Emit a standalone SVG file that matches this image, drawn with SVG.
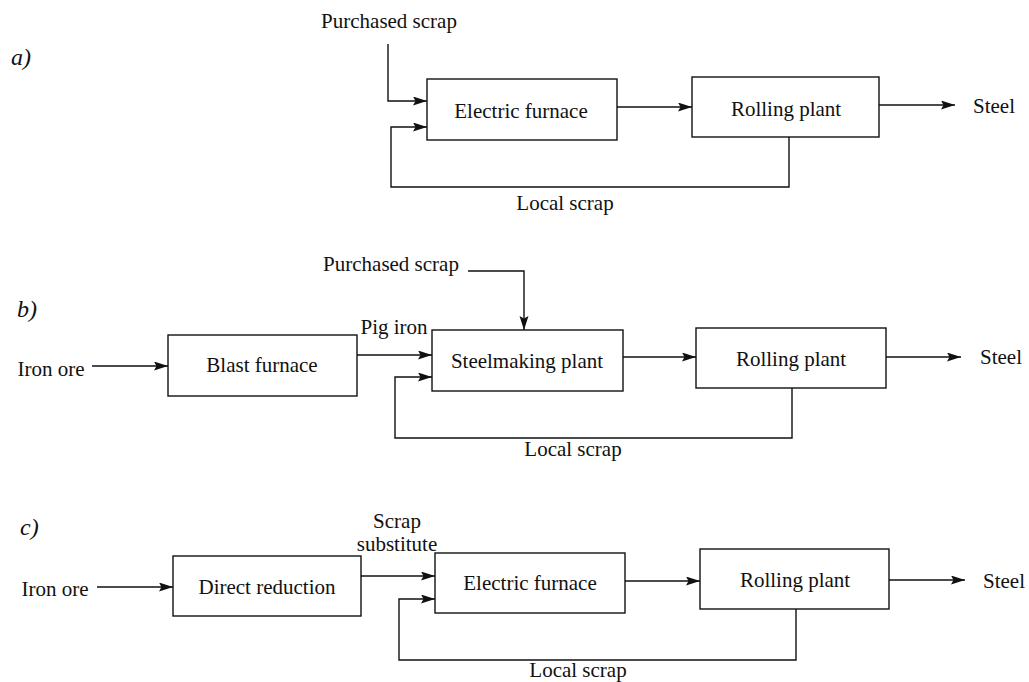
<svg xmlns="http://www.w3.org/2000/svg" width="1029" height="682" viewBox="0 0 1029 682">
<defs>
<style>
.box{fill:#fff;stroke:#111;stroke-width:1.4}
.ln{fill:none;stroke:#111;stroke-width:1.4}
.t{font-family:"Liberation Serif","Times New Roman",serif;font-size:21px;fill:#111}
.c{text-anchor:middle}
.lab{font-family:"Liberation Serif","Times New Roman",serif;font-style:italic;font-size:24px;fill:#111}
</style>
<marker id="ah" markerUnits="userSpaceOnUse" markerWidth="16" markerHeight="10" refX="14" refY="4.5" orient="auto">
<path d="M0,0 L14,4.5 L0,9 L2.5,4.5 Z" fill="#111"/>
</marker>
</defs>
<rect width="1029" height="682" fill="#fff"/>

<!-- Section labels -->
<text class="lab" x="11" y="65">a)</text>
<text class="lab" x="17" y="317">b)</text>
<text class="lab" x="20" y="535">c)</text>

<!-- Connectors -->
<g id="connectors">
  <!-- a -->
  <path class="ln" d="M388,44 V101 H427" marker-end="url(#ah)"/>
  <path class="ln" d="M789,137 V187 H391 V127 H427" marker-end="url(#ah)"/>
  <path class="ln" d="M617,107 H692" marker-end="url(#ah)"/>
  <path class="ln" d="M879,105 H955" marker-end="url(#ah)"/>
  <!-- b -->
  <path class="ln" d="M468,271 H524 V330" marker-end="url(#ah)"/>
  <path class="ln" d="M92,366 H168" marker-end="url(#ah)"/>
  <path class="ln" d="M357,355 H432" marker-end="url(#ah)"/>
  <path class="ln" d="M792,388 V438 H395 V377 H432" marker-end="url(#ah)"/>
  <path class="ln" d="M623,357 H696" marker-end="url(#ah)"/>
  <path class="ln" d="M886,357 H961" marker-end="url(#ah)"/>
  <!-- c -->
  <path class="ln" d="M97,587 H173" marker-end="url(#ah)"/>
  <path class="ln" d="M361,576 H435" marker-end="url(#ah)"/>
  <path class="ln" d="M796,609 V660 H399 V599 H435" marker-end="url(#ah)"/>
  <path class="ln" d="M625,581 H700" marker-end="url(#ah)"/>
  <path class="ln" d="M889,580 H965" marker-end="url(#ah)"/>
</g>

<!-- Section a -->
<g id="a-purchased-scrap"><text class="t c" x="389" y="28">Purchased scrap</text></g>
<g id="a-electric-furnace">
  <rect class="box" x="427" y="79" width="190" height="61"/>
  <text class="t c" x="521" y="118">Electric furnace</text>
</g>
<g id="a-rolling-plant">
  <rect class="box" x="692" y="77" width="187" height="60"/>
  <text class="t c" x="786" y="116">Rolling plant</text>
</g>
<g id="a-steel"><text class="t" x="973" y="113">Steel</text></g>
<g id="a-local-scrap"><text class="t c" x="565" y="210">Local scrap</text></g>

<!-- Section b -->
<g id="b-purchased-scrap"><text class="t c" x="391" y="271">Purchased scrap</text></g>
<g id="b-iron-ore"><text class="t c" x="51" y="376">Iron ore</text></g>
<g id="b-blast-furnace">
  <rect class="box" x="168" y="335" width="189" height="61"/>
  <text class="t c" x="262" y="372">Blast furnace</text>
</g>
<g id="b-pig-iron"><text class="t c" x="394" y="334">Pig iron</text></g>
<g id="b-steelmaking-plant">
  <rect class="box" x="432" y="330" width="191" height="61"/>
  <text class="t c" x="527" y="368">Steelmaking plant</text>
</g>
<g id="b-rolling-plant">
  <rect class="box" x="696" y="328" width="190" height="60"/>
  <text class="t c" x="791" y="366">Rolling plant</text>
</g>
<g id="b-steel"><text class="t" x="980" y="364">Steel</text></g>
<g id="b-local-scrap"><text class="t c" x="573" y="456">Local scrap</text></g>

<!-- Section c -->
<g id="c-iron-ore"><text class="t c" x="55" y="596">Iron ore</text></g>
<g id="c-direct-reduction">
  <rect class="box" x="173" y="556" width="188" height="60"/>
  <text class="t c" x="267" y="594">Direct reduction</text>
</g>
<g id="c-scrap-substitute">
  <text class="t c" x="397" y="528">Scrap</text>
  <text class="t c" x="397" y="551">substitute</text>
</g>
<g id="c-electric-furnace">
  <rect class="box" x="435" y="553" width="190" height="60"/>
  <text class="t c" x="530" y="590">Electric furnace</text>
</g>
<g id="c-rolling-plant">
  <rect class="box" x="700" y="549" width="189" height="60"/>
  <text class="t c" x="795" y="587">Rolling plant</text>
</g>
<g id="c-steel"><text class="t" x="983" y="588">Steel</text></g>
<g id="c-local-scrap"><text class="t c" x="578" y="677">Local scrap</text></g>
</svg>
